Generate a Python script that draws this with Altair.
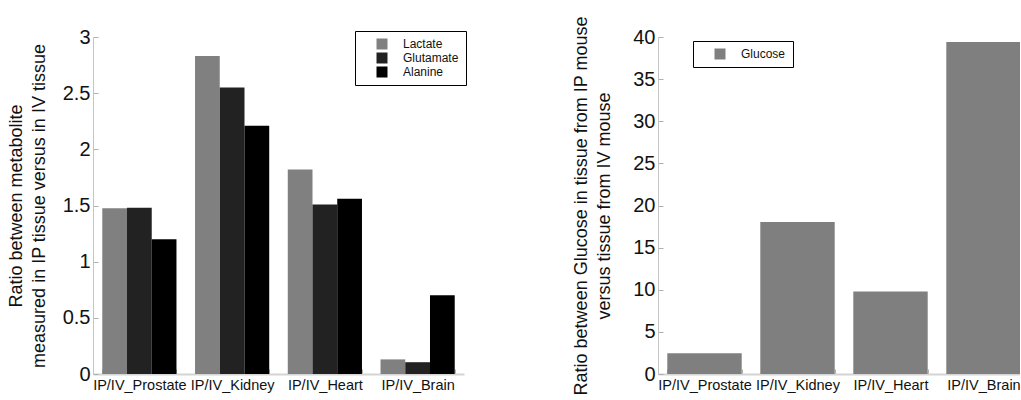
import altair as alt
import pandas as pd

# Tissue ratios (IP / IV)
tissues = ["IP/IV_Prostate", "IP/IV_Kidney", "IP/IV_Heart", "IP/IV_Brain"]
metabolites = ["Lactate", "Glutamate", "Alanine"]
lactate = [1.475, 2.83, 1.82, 0.13]
glutamate = [1.48, 2.55, 1.51, 0.105]
alanine = [1.20, 2.21, 1.56, 0.70]
glucose = [2.45, 18.05, 9.8, 39.4]

metab_colors = ["#808080", "#222222", "#000000"]
glucose_color = "#7f7f7f"

left_ticks = [0, 0.5, 1, 1.5, 2, 2.5, 3]
right_ticks = [0, 5, 10, 15, 20, 25, 30, 35, 40]

FONT = "Liberation Sans"

metab_df = pd.DataFrame(
    [
        {"tissue": t, "metabolite": m, "ratio": v}
        for m, vals in zip(metabolites, [lactate, glutamate, alanine])
        for t, v in zip(tissues, vals)
    ]
)
gluc_df = pd.DataFrame({"tissue": tissues, "ratio": glucose, "metabolite": ["Glucose"] * 4})

x_axis = alt.Axis(
    title=None,
    labelAngle=0,
    labelFontSize=14.5,
    labelPadding=9,
    labelColor="#111111",
    tickBand="extent",
    tickSize=alt.ExprRef("-5"),
    tickColor="#b0b0b0",
    domainColor="#d4d4d4",
    domainWidth=2,
)


def y_axis(title, values, title_pad):
    return alt.Axis(
        title=title,
        values=values,
        format="~g",
        grid=False,
        labelFontSize=20,
        labelPadding=8,
        labelColor="#111111",
        tickSize=alt.ExprRef("-5"),
        tickColor="#b0b0b0",
        domainColor="#c4c4c4",
        titleFontSize=18,
        titleFontWeight="normal",
        titleColor="#111111",
        titleLineHeight=23,
        titlePadding=title_pad,
    )


legend_common = dict(
    title=None,
    orient="none",
    fillColor="white",
    strokeColor="black",
    padding=7,
    symbolType="square",
    symbolSize=121,
    symbolStrokeWidth=0,
    symbolOffset=14,
    labelOffset=15,
    labelFontSize=12,
    labelColor="#111111",
    rowPadding=2,
)

left = (
    alt.Chart(metab_df)
    .mark_bar()
    .encode(
        x=alt.X(
            "tissue:N",
            sort=tissues,
            scale=alt.Scale(paddingInner=0.2, paddingOuter=0.1),
            axis=x_axis,
        ),
        xOffset=alt.XOffset("metabolite:N", sort=metabolites),
        y=alt.Y(
            "ratio:Q",
            scale=alt.Scale(domain=[0, 3], nice=False),
            axis=y_axis(
                ["Ratio between metabolite", "measured in IP tissue versus in IV tissue"],
                left_ticks,
                14,
            ),
        ),
        color=alt.Color(
            "metabolite:N",
            sort=metabolites,
            scale=alt.Scale(domain=metabolites, range=metab_colors),
            legend=alt.Legend(legendX=262, legendY=-6, **legend_common),
        ),
    )
    .properties(width=371, height=337)
)

right = (
    alt.Chart(gluc_df)
    .mark_bar()
    .encode(
        x=alt.X(
            "tissue:N",
            sort=tissues,
            scale=alt.Scale(paddingInner=0.2, paddingOuter=0.1),
            axis=x_axis,
        ),
        y=alt.Y(
            "ratio:Q",
            scale=alt.Scale(domain=[0, 40], nice=False),
            axis=y_axis(
                ["Ratio between Glucose in tissue from IP mouse", "versus tissue from IV mouse"],
                right_ticks,
                19,
            ),
        ),
        color=alt.Color(
            "metabolite:N",
            scale=alt.Scale(domain=["Glucose"], range=[glucose_color]),
            legend=alt.Legend(legendX=35, legendY=4, **legend_common),
        ),
    )
    .properties(width=372, height=337)
)

# the right panel runs past the page edge, so the right padding is negative
chart = (
    alt.hconcat(left, right, spacing=105)
    .resolve_scale(color="independent", x="independent", y="independent")
    .resolve_legend(color="independent")
    .properties(padding={"left": 7, "top": 15, "right": -10, "bottom": 0})
    .configure(font=FONT)
    .configure_view(stroke=None)
)

chart.save("out.html", embed_options={"renderer": "svg", "actions": False})
